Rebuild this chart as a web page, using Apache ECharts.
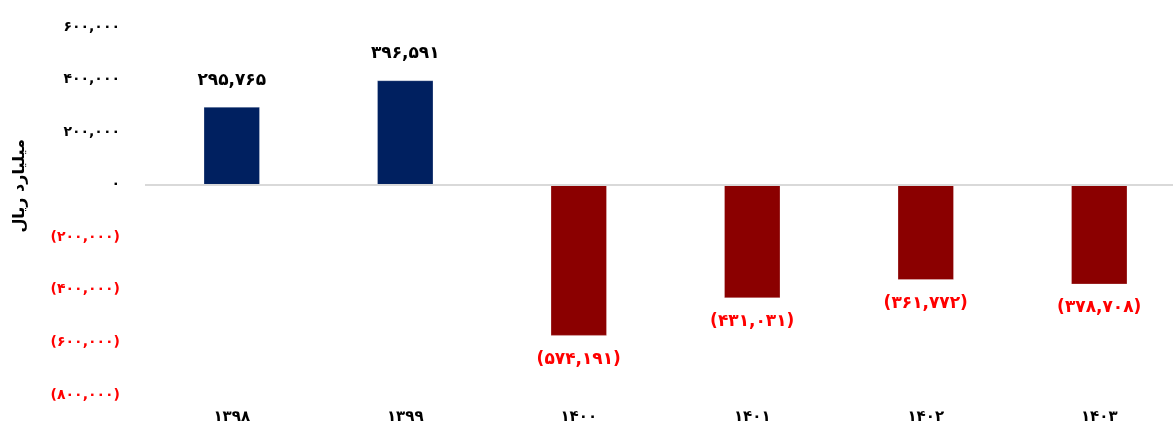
<!DOCTYPE html>
<html lang="fa">
<head>
<meta charset="utf-8">
<title>میلیارد ریال</title>
<script src="https://cdn.jsdelivr.net/npm/echarts@6/dist/echarts.min.js"></script>
<style>
  html, body { margin: 0; padding: 0; background: #ffffff; }
  #chart { width: 1173px; height: 425px; }
</style>
</head>
<body>
<div id="chart"></div>
<script>
// Fiscal years (Persian calendar)
const years = ['۱۳۹۸', '۱۳۹۹', '۱۴۰۰', '۱۴۰۱', '۱۴۰۲', '۱۴۰۳'];
// Values in billion rials
const values = [295765, 396591, -574191, -431031, -361772, -378708];
// Y axis scale
const yMin = -800000;
const yMax = 600000;
const yStep = 200000;

const FONT = '"DejaVu Sans", "Noto Sans", sans-serif';
const POS_COLOR = '#002060';
const NEG_COLOR = '#8B0000';
const RED_TEXT = '#FF0000';

// Western digits -> Persian digits, with thousands separators
function toFa(n) {
  const digits = '۰۱۲۳۴۵۶۷۸۹';
  const s = Math.abs(n).toString().replace(/\B(?=(\d{3})+(?!\d))/g, ',');
  const fa = s.replace(/\d/g, d => digits[+d]);
  return n < 0 ? '(' + fa + ')' : fa;
}

const barData = values.map(v => ({
  value: v,
  itemStyle: { color: v >= 0 ? POS_COLOR : NEG_COLOR },
  label: v >= 0
    ? { position: 'top', distance: 18, color: '#000000' }
    : { position: 'bottom', distance: 15, color: RED_TEXT }
}));

const chart = echarts.init(document.getElementById('chart'), null, { renderer: 'canvas' });

chart.setOption({
  backgroundColor: '#ffffff',
  animation: false,
  // plot area runs slightly past the right edge so the last category is clipped
  grid: {
    left: 145, right: -13, top: 27, bottom: 30,
    containLabel: false,
    outerBoundsMode: 'none'
  },
  xAxis: {
    type: 'category',
    data: years,
    axisLine: { show: false, onZero: false },
    axisTick: { show: false },
    axisLabel: {
      margin: 15,
      fontFamily: FONT,
      fontWeight: 'bold',
      fontSize: 15,
      color: '#000000'
    },
    splitLine: { show: false }
  },
  yAxis: {
    type: 'value',
    min: yMin,
    max: yMax,
    interval: yStep,
    axisLine: { show: false },
    axisTick: { show: false },
    splitLine: { show: false },
    axisLabel: {
      margin: 25,
      formatter: v => (v < 0 ? '{n|' : '{p|') + toFa(v) + '}',
      rich: {
        p: { fontFamily: FONT, fontWeight: 'bold', fontSize: 14, color: '#000000' },
        n: { fontFamily: FONT, fontWeight: 'bold', fontSize: 14, color: RED_TEXT }
      }
    }
  },
  graphic: [{
    type: 'text',
    left: 12,
    top: 139,
    rotation: Math.PI / 2,
    style: {
      text: 'میلیارد ریال',
      fontFamily: FONT,
      fontWeight: 'bold',
      fontSize: 16,
      fill: '#000000'
    }
  }],
  series: [{
    type: 'bar',
    data: barData,
    barWidth: 56,
    itemStyle: { borderColor: 'rgba(255,255,255,0.5)', borderWidth: 0.5 },
    label: {
      show: true,
      fontFamily: FONT,
      fontWeight: 'bold',
      fontSize: 17,
      formatter: p => toFa(p.value)
    },
    markLine: {
      silent: true,
      symbol: ['none', 'none'],
      label: { show: false },
      lineStyle: { type: 'solid', color: '#D9D9D9', width: 2 },
      data: [{ yAxis: 0 }]
    }
  }]
});
</script>
</body>
</html>
